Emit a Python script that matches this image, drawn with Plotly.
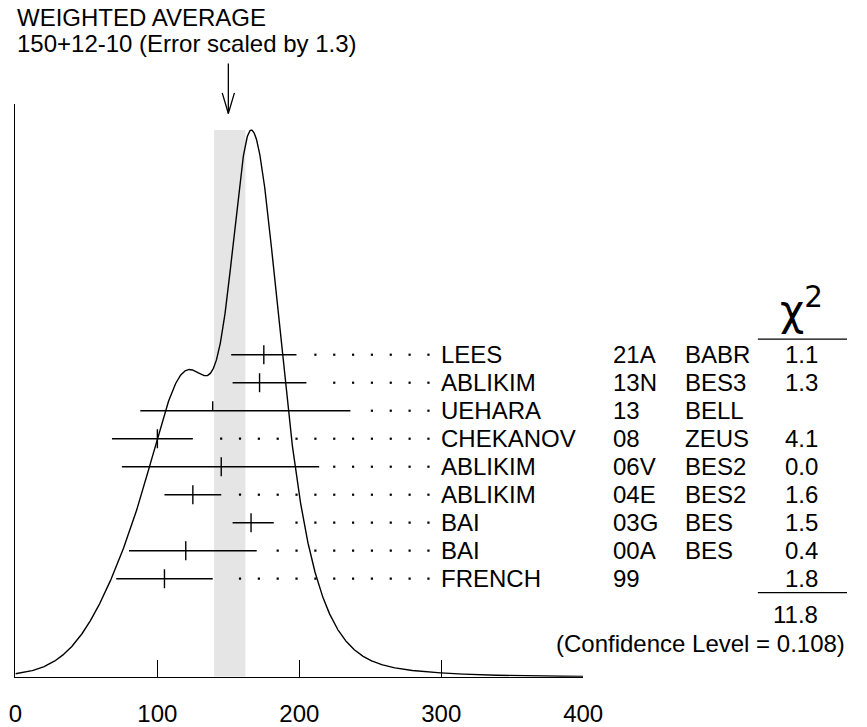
import numpy as np
import plotly.graph_objects as go

# ---------------- data ----------------
names = ["LEES", "ABLIKIM", "UEHARA", "CHEKANOV", "ABLIKIM", "ABLIKIM", "BAI", "BAI", "FRENCH"]
codes = ["21A", "13N", "13", "08", "06V", "04E", "03G", "00A", "99"]
collabs = ["BABR", "BES3", "BELL", "ZEUS", "BES2", "BES2", "BES", "BES", ""]
values = [175, 172, 139, 100, 145, 125, 166, 120, 105]
err_minus = [23, 19, 51, 32, 70, 20, 13, 40, 34]
err_plus = [23, 33, 97, 25, 69, 20, 16, 50, 34]
chi2 = ["1.1", "1.3", "", "4.1", "0.0", "1.6", "1.5", "0.4", "1.8"]
half_tick = [False, False, True, False, False, False, False, False, False]
chi2_total = "11.8"
conf_level = "0.108"
avg_value = 150
avg_plus = 12
avg_minus = 10
error_scale = 1.3
x_ticks = [0, 100, 200, 300, 400]

# ---------------- layout geometry (pixels) ----------------
W, H = 867, 727
X0_PX, X400_PX = 8.7, 594.7          # x-axis pixel extent for 0..400
AXIS_Y_PX, TOP_Y_PX = 692, 106       # x-axis line and top of y-axis line
PEAK_Y_PX = 133                       # top of the curve / band
ROW0_PX, ROW_STEP = 362.7, 28.63      # first row and spacing (px from top)
TICK_HALF = 9.7
FONT = "Liberation Sans"
FS = 24

ppu = (X400_PX - X0_PX) / 400.0
PEAK_H = AXIS_Y_PX - PEAK_Y_PX
rows = [AXIS_Y_PX - (ROW0_PX + i * ROW_STEP) for i in range(len(names))]

def px(xp):
    return xp / W

def py(yp):
    return (H - yp) / H

# ---------------- ideogram ----------------
xs = np.linspace(0, 400, 1601)
curve = np.zeros_like(xs)
for v, em, ep in zip(values, err_minus, err_plus):
    s = np.where(xs < v, em, ep)
    amp = 1.0 / (((em + ep) / 2.0) ** 2)
    curve += amp * np.exp(-0.5 * ((xs - v) / s) ** 2)
curve = curve / curve.max() * PEAK_H

fig = go.Figure()

fig.add_shape(type="rect", xref="x", yref="y",
              x0=avg_value - avg_minus, x1=avg_value + avg_plus, y0=0, y1=PEAK_H,
              fillcolor="#e5e5e5", line=dict(width=0), layer="below")

fig.add_trace(go.Scatter(x=xs, y=curve, mode="lines",
                         line=dict(color="black", width=1.4), hoverinfo="skip"))

for i, (v, em, ep) in enumerate(zip(values, err_minus, err_plus)):
    yr = rows[i]
    fig.add_trace(go.Scatter(x=[v - em, v + ep], y=[yr, yr], mode="lines",
                             line=dict(color="black", width=1.4), hoverinfo="skip"))
    y_lo = yr if half_tick[i] else yr - TICK_HALF
    fig.add_trace(go.Scatter(x=[v, v], y=[y_lo, yr + TICK_HALF], mode="lines",
                             line=dict(color="black", width=1.4), hoverinfo="skip"))

# dotted leaders on a fixed grid ending just before the labels
DOT_LAST = (435 - X0_PX) / ppu
DOT_STEP = 19.45 / ppu
dx, dy = [], []
for i, (v, ep) in enumerate(zip(values, err_plus)):
    right = v + ep
    k = 0
    while True:
        xd = DOT_LAST - k * DOT_STEP
        if xd <= right + 8.5 or xd < 0:
            break
        dx.append(xd)
        dy.append(rows[i])
        k += 1
fig.add_trace(go.Scatter(x=dx, y=dy, mode="markers",
                         marker=dict(symbol="square", size=2.2, color="black"),
                         hoverinfo="skip"))

# arrow pointing at the weighted average (overlay axes, y in px from top)
ah = 6.3 / ppu
fig.add_trace(go.Scatter(x=[avg_value, avg_value], y=[65, 116], mode="lines",
                         line=dict(color="black", width=1.3), xaxis="x2", yaxis="y2",
                         hoverinfo="skip"))
fig.add_trace(go.Scatter(x=[avg_value - ah, avg_value, avg_value + ah], y=[95, 116, 95],
                         mode="lines", line=dict(color="black", width=1.3),
                         xaxis="x2", yaxis="y2", hoverinfo="skip"))

ann = []

def text(x, y, t, xanchor="left", yanchor="middle", size=FS, xref="paper", yref="paper",
         family=FONT):
    ann.append(dict(x=x, y=y, xref=xref, yref=yref, text=t, showarrow=False,
                    xanchor=xanchor, yanchor=yanchor,
                    font=dict(family=family, size=size, color="black")))

text(px(8.3), py(18), "WEIGHTED AVERAGE")
text(px(8.3), py(44), f"{avg_value}+{avg_plus}-{avg_minus} (Error scaled by {error_scale})")

for i in range(len(names)):
    text(px(446), rows[i], names[i], yref="y")
    text(px(623), rows[i], codes[i], yref="y")
    if collabs[i]:
        text(px(697.5), rows[i], collabs[i], yref="y")
    if chi2[i]:
        text(px(839.5), rows[i], chi2[i], xanchor="right", yref="y")

text(px(820), py(345), "χ<sup>2</sup>", xanchor="center", yanchor="bottom", size=42,
     family="DejaVu Sans")
text(px(839.5), py(628), chi2_total, xanchor="right")
text(px(867), py(658), f"(Confidence Level = {conf_level})", xanchor="right")

for yl in (346.7, 606):
    fig.add_shape(type="line", xref="paper", yref="paper", x0=px(775), x1=px(867),
                  y0=py(yl), y1=py(yl), line=dict(color="black", width=1.3))

xdom = [px(X0_PX), px(X400_PX)]
fig.update_layout(
    width=W, height=H,
    margin=dict(l=0, r=0, t=0, b=0, pad=0),
    paper_bgcolor="white", plot_bgcolor="rgba(0,0,0,0)",
    showlegend=False,
    annotations=ann,
    xaxis=dict(domain=xdom, range=[0, 400], tickvals=x_ticks,
               ticktext=[str(t) for t in x_ticks],
               ticks="inside", ticklen=17, tickwidth=1.4, tickcolor="black",
               showline=True, linecolor="black", linewidth=1.4,
               showgrid=False, zeroline=False, anchor="y",
               tickfont=dict(family=FONT, size=FS, color="black"),
               ticklabelstandoff=15),
    yaxis=dict(domain=[py(AXIS_Y_PX), py(TOP_Y_PX)], range=[0, AXIS_Y_PX - TOP_Y_PX],
               showline=True, linecolor="black", linewidth=1.4,
               showticklabels=False, ticks="", showgrid=False, zeroline=False,
               anchor="x"),
    xaxis2=dict(domain=xdom, range=[0, 400], visible=False, anchor="y2"),
    yaxis2=dict(domain=[0, 1], range=[H, 0], visible=False, anchor="x2"),
)

fit_js = (
    "document.body.style.margin='0';"
    "document.documentElement.style.overflow='hidden';"
    "document.body.style.overflow='hidden';"
    "var gd=document.querySelector('.plotly-graph-div');"
    f"var s=Math.min(window.innerWidth/{W}, window.innerHeight/{H});"
    "if(s>0){gd.style.transformOrigin='0 0';gd.style.transform='scale('+s+')';}"
)
fig.write_html("out.html", config={"displayModeBar": False}, post_script=fit_js)
